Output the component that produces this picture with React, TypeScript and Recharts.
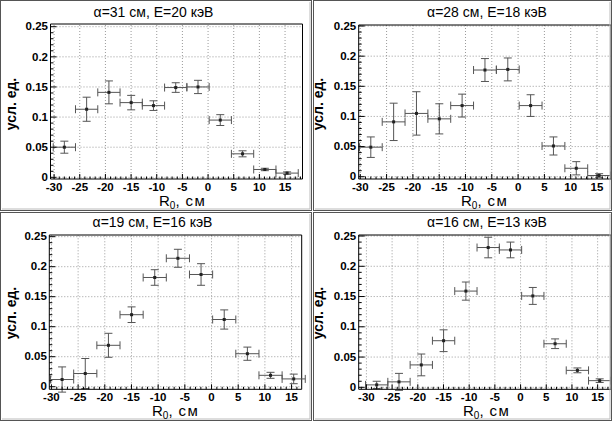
import React from 'react';
import { ScatterChart, Scatter, XAxis, YAxis, ErrorBar, ReferenceLine } from 'recharts';

// ---- data ----
const binCenters = [-28, -23.66, -19.32, -14.98, -10.64, -6.3, -1.96, 2.38, 6.72, 11.06, 15.4];
const binHalfWidths = [2.17, 2.17, 2.17, 2.17, 2.17, 2.17, 2.17, 2.17, 2.17, 2.17, 2.17];

const panelTitles = ['α=31 см, E=20 кэВ', 'α=28 см, E=18 кэВ', 'α=19 см, E=16 кэВ', 'α=16 см, E=13 кэВ'];

const valuesA31 = [0.050, 0.113, 0.141, 0.124, 0.119, 0.149, 0.150, 0.095, 0.039, 0.013, 0.007];
const errorsA31 = [0.010, 0.020, 0.019, 0.012, 0.008, 0.008, 0.011, 0.009, 0.005, 0.002, 0.002];
const valuesA28 = [0.049, 0.091, 0.105, 0.096, 0.118, 0.177, 0.178, 0.118, 0.051, 0.014, 0.002];
const errorsA28 = [0.017, 0.031, 0.036, 0.025, 0.019, 0.019, 0.019, 0.018, 0.015, 0.011, 0.003];
const valuesA19 = [0.012, 0.022, 0.069, 0.120, 0.182, 0.214, 0.187, 0.112, 0.055, 0.019, 0.013];
const errorsA19 = [0.021, 0.025, 0.020, 0.013, 0.013, 0.015, 0.018, 0.016, 0.011, 0.005, 0.008];
const valuesA16 = [0.004, 0.009, 0.037, 0.077, 0.159, 0.231, 0.227, 0.151, 0.072, 0.028, 0.011];
const errorsA16 = [0.006, 0.014, 0.018, 0.018, 0.015, 0.017, 0.013, 0.014, 0.008, 0.004, 0.003];

const xMajorTicks = [-30, -25, -20, -15, -10, -5, 0, 5, 10, 15];
const yMajorTicks = [0, 0.05, 0.1, 0.15, 0.2, 0.25];
const yTickLabels = ['0', '0.05', '0.1', '0.15', '0.2', '0.25'];
const xAxisTitle = 'R';
const xAxisSub = '0';
const xAxisComma = ',';
const xAxisUnit = 'см';
const yAxisTitle = 'усл. ед.';

// ---- layout ----
const FONT = '"Liberation Sans", Arial, Helvetica, sans-serif';

const panels = [
  { values: valuesA31, errors: errorsA31, left: 0, top: 0, w: 312, h: 211,
    plot: { l: 50.5, t: 24, r: 302.5, b: 179 }, xDomain: [-30.7, 18.4], yDomain: [-0.0028, 0.2545],
    title: { x: 153.5, y: 16.5 }, xt: { x: 159, y: 206 }, yt: { x: 15.5, y: 104 } },
  { values: valuesA28, errors: errorsA28, left: 313, top: 0, w: 299, h: 211,
    plot: { l: 45.7, t: 25, r: 298, b: 179 }, xDomain: [-30.3, 17.66], yDomain: [-0.0038, 0.2517],
    title: { x: 487, y: 16.5 }, xt: { x: 461, y: 206 }, yt: { x: 323, y: 104 } },
  { values: valuesA19, errors: errorsA19, left: 0, top: 212, w: 312, h: 209,
    plot: { l: 49.3, t: 23, r: 301.7, b: 177.3 }, xDomain: [-30.4, 16.9], yDomain: [-0.0043, 0.2528],
    title: { x: 152.5, y: 226.5 }, xt: { x: 152, y: 416 }, yt: { x: 15.5, y: 313 } },
  { values: valuesA16, errors: errorsA16, left: 313, top: 212, w: 299, h: 209,
    plot: { l: 45.7, t: 23, r: 298, b: 177.3 }, xDomain: [-31.5, 17.6], yDomain: [-0.0033, 0.2517],
    title: { x: 487, y: 226.5 }, xt: { x: 463, y: 416 }, yt: { x: 323, y: 313 } },
];

function buildXTicks(domain: number[]) {
  const out: number[] = [];
  for (let i = Math.ceil(domain[0]); i <= Math.floor(domain[1]); i++) out.push(i);
  return out;
}
function buildYTicks() {
  const out: number[] = [];
  for (let i = 0; i <= 25; i++) out.push(i / 100);
  return out;
}

const XTick = (props: any) => {
  const { x, y, payload } = props;
  const v = payload.value;
  const major = xMajorTicks.indexOf(v) >= 0;
  return (
    <g>
      <line x1={x} x2={x} y1={y} y2={y - (major ? 5 : 2.5)} stroke="#000" strokeWidth={1} />
      {major && (
        <text x={x} y={y + 11.5} textAnchor="middle" fontSize={11.5} fontWeight="bold" fontFamily={FONT} fill="#000">
          {String(v)}
        </text>
      )}
    </g>
  );
};

const YTick = (props: any) => {
  const { x, y, payload } = props;
  const v = payload.value;
  const idx = yMajorTicks.findIndex((m) => Math.abs(m - v) < 1e-9);
  const major = idx >= 0;
  return (
    <g>
      <line x1={x} x2={x + (major ? 6 : 3)} y1={y} y2={y} stroke="#000" strokeWidth={1} />
      {major && (
        <text x={x - 2.5} y={y + 3.7} textAnchor="end" fontSize={11.5} fontWeight="bold" fontFamily={FONT} fill="#000">
          {yTickLabels[idx]}
        </text>
      )}
    </g>
  );
};

const Marker = (props: any) => {
  const { cx, cy } = props;
  return <rect x={cx - 1.5} y={cy - 1.5} width={3} height={3} fill="#222" />;
};

function Panel({ p }: { p: any }) {
  const data = binCenters.map((x, i) => ({ x, y: p.values[i], ex: binHalfWidths[i], ey: p.errors[i] }));
  const xTicks = buildXTicks(p.xDomain);
  const yTicks = buildYTicks();
  const margin = { top: p.plot.t, left: p.plot.l - 1, right: p.w - p.plot.r, bottom: p.h - p.plot.b - 1 };
  return (
    <div style={{ position: 'absolute', left: p.left, top: p.top, width: p.w, height: p.h }}>
      <ScatterChart width={p.w} height={p.h} margin={margin}>
        <XAxis type="number" dataKey="x" domain={p.xDomain} ticks={xTicks} interval={0} allowDataOverflow
          tick={<XTick />} tickLine={false} tickSize={0} tickMargin={0} height={1}
          axisLine={{ stroke: '#000', strokeWidth: 1 }} />
        <YAxis type="number" dataKey="y" domain={p.yDomain} ticks={yTicks} interval={0} allowDataOverflow
          tick={<YTick />} tickLine={false} tickSize={0} tickMargin={0} width={1}
          axisLine={{ stroke: '#000', strokeWidth: 1 }} />
        {xMajorTicks.map((t) => (
          <ReferenceLine key={'gx' + t} x={t} stroke="#9a9a9a" strokeDasharray="1 2" strokeWidth={1} />
        ))}
        {yMajorTicks.map((t) => (
          <ReferenceLine key={'gy' + t} y={t} stroke="#9a9a9a" strokeDasharray="1 2" strokeWidth={1} />
        ))}
        <ReferenceLine x={p.xDomain[1]} stroke="#000" strokeWidth={1} />
        <ReferenceLine y={p.yDomain[1]} stroke="#000" strokeWidth={1} />
        <Scatter data={data} shape={<Marker />} isAnimationActive={false}>
          <ErrorBar dataKey="ey" direction="y" width={4} stroke="#555" strokeWidth={1} isAnimationActive={false} />
          <ErrorBar dataKey="ex" direction="x" width={4} stroke="#555" strokeWidth={1} isAnimationActive={false} />
        </Scatter>
      </ScatterChart>
    </div>
  );
}

export default function App() {
  return (
    <div style={{ position: 'absolute', left: 0, top: 0, width: 612, height: 421, background: '#fff', overflow: 'hidden' }}>
      {panels.map((p, i) => (
        <Panel key={i} p={p} />
      ))}
      <svg width={612} height={421} style={{ position: 'absolute', left: 0, top: 0, pointerEvents: 'none' }}>
        {panels.map((p, i) => (
          <g key={i}>
            <rect x={p.left + 0.5} y={p.top + 0.5} width={p.w - 1} height={p.h - 1} fill="none" stroke="#555" strokeWidth={1} />
            <line x1={p.left + p.w - 2} x2={p.left + p.w - 2} y1={p.top + 2} y2={p.top + p.h - 2} stroke="#bbb" strokeWidth={1} />
            <line x1={p.left + 2} x2={p.left + p.w - 2} y1={p.top + p.h - 2} y2={p.top + p.h - 2} stroke="#bbb" strokeWidth={1} />
            <text x={p.title.x} y={p.title.y} textAnchor="middle" fontSize={14} fontFamily={FONT} fill="#000">
              {panelTitles[i]}
            </text>
            <text x={p.xt.x} y={p.xt.y} fontSize={15} fontFamily={FONT} fill="#000">
              {xAxisTitle}
              <tspan fontSize={10} dy={3}>{xAxisSub}</tspan>
              <tspan dy={-3}>{xAxisComma}</tspan>
              <tspan dx={6} letterSpacing={1.5}>{xAxisUnit}</tspan>
            </text>
            <text transform={`translate(${p.yt.x},${p.yt.y}) rotate(-90)`} textAnchor="middle" fontSize={14}
              fontWeight="bold" fontFamily={FONT} fill="#000">
              {yAxisTitle}
            </text>
          </g>
        ))}
      </svg>
    </div>
  );
}
